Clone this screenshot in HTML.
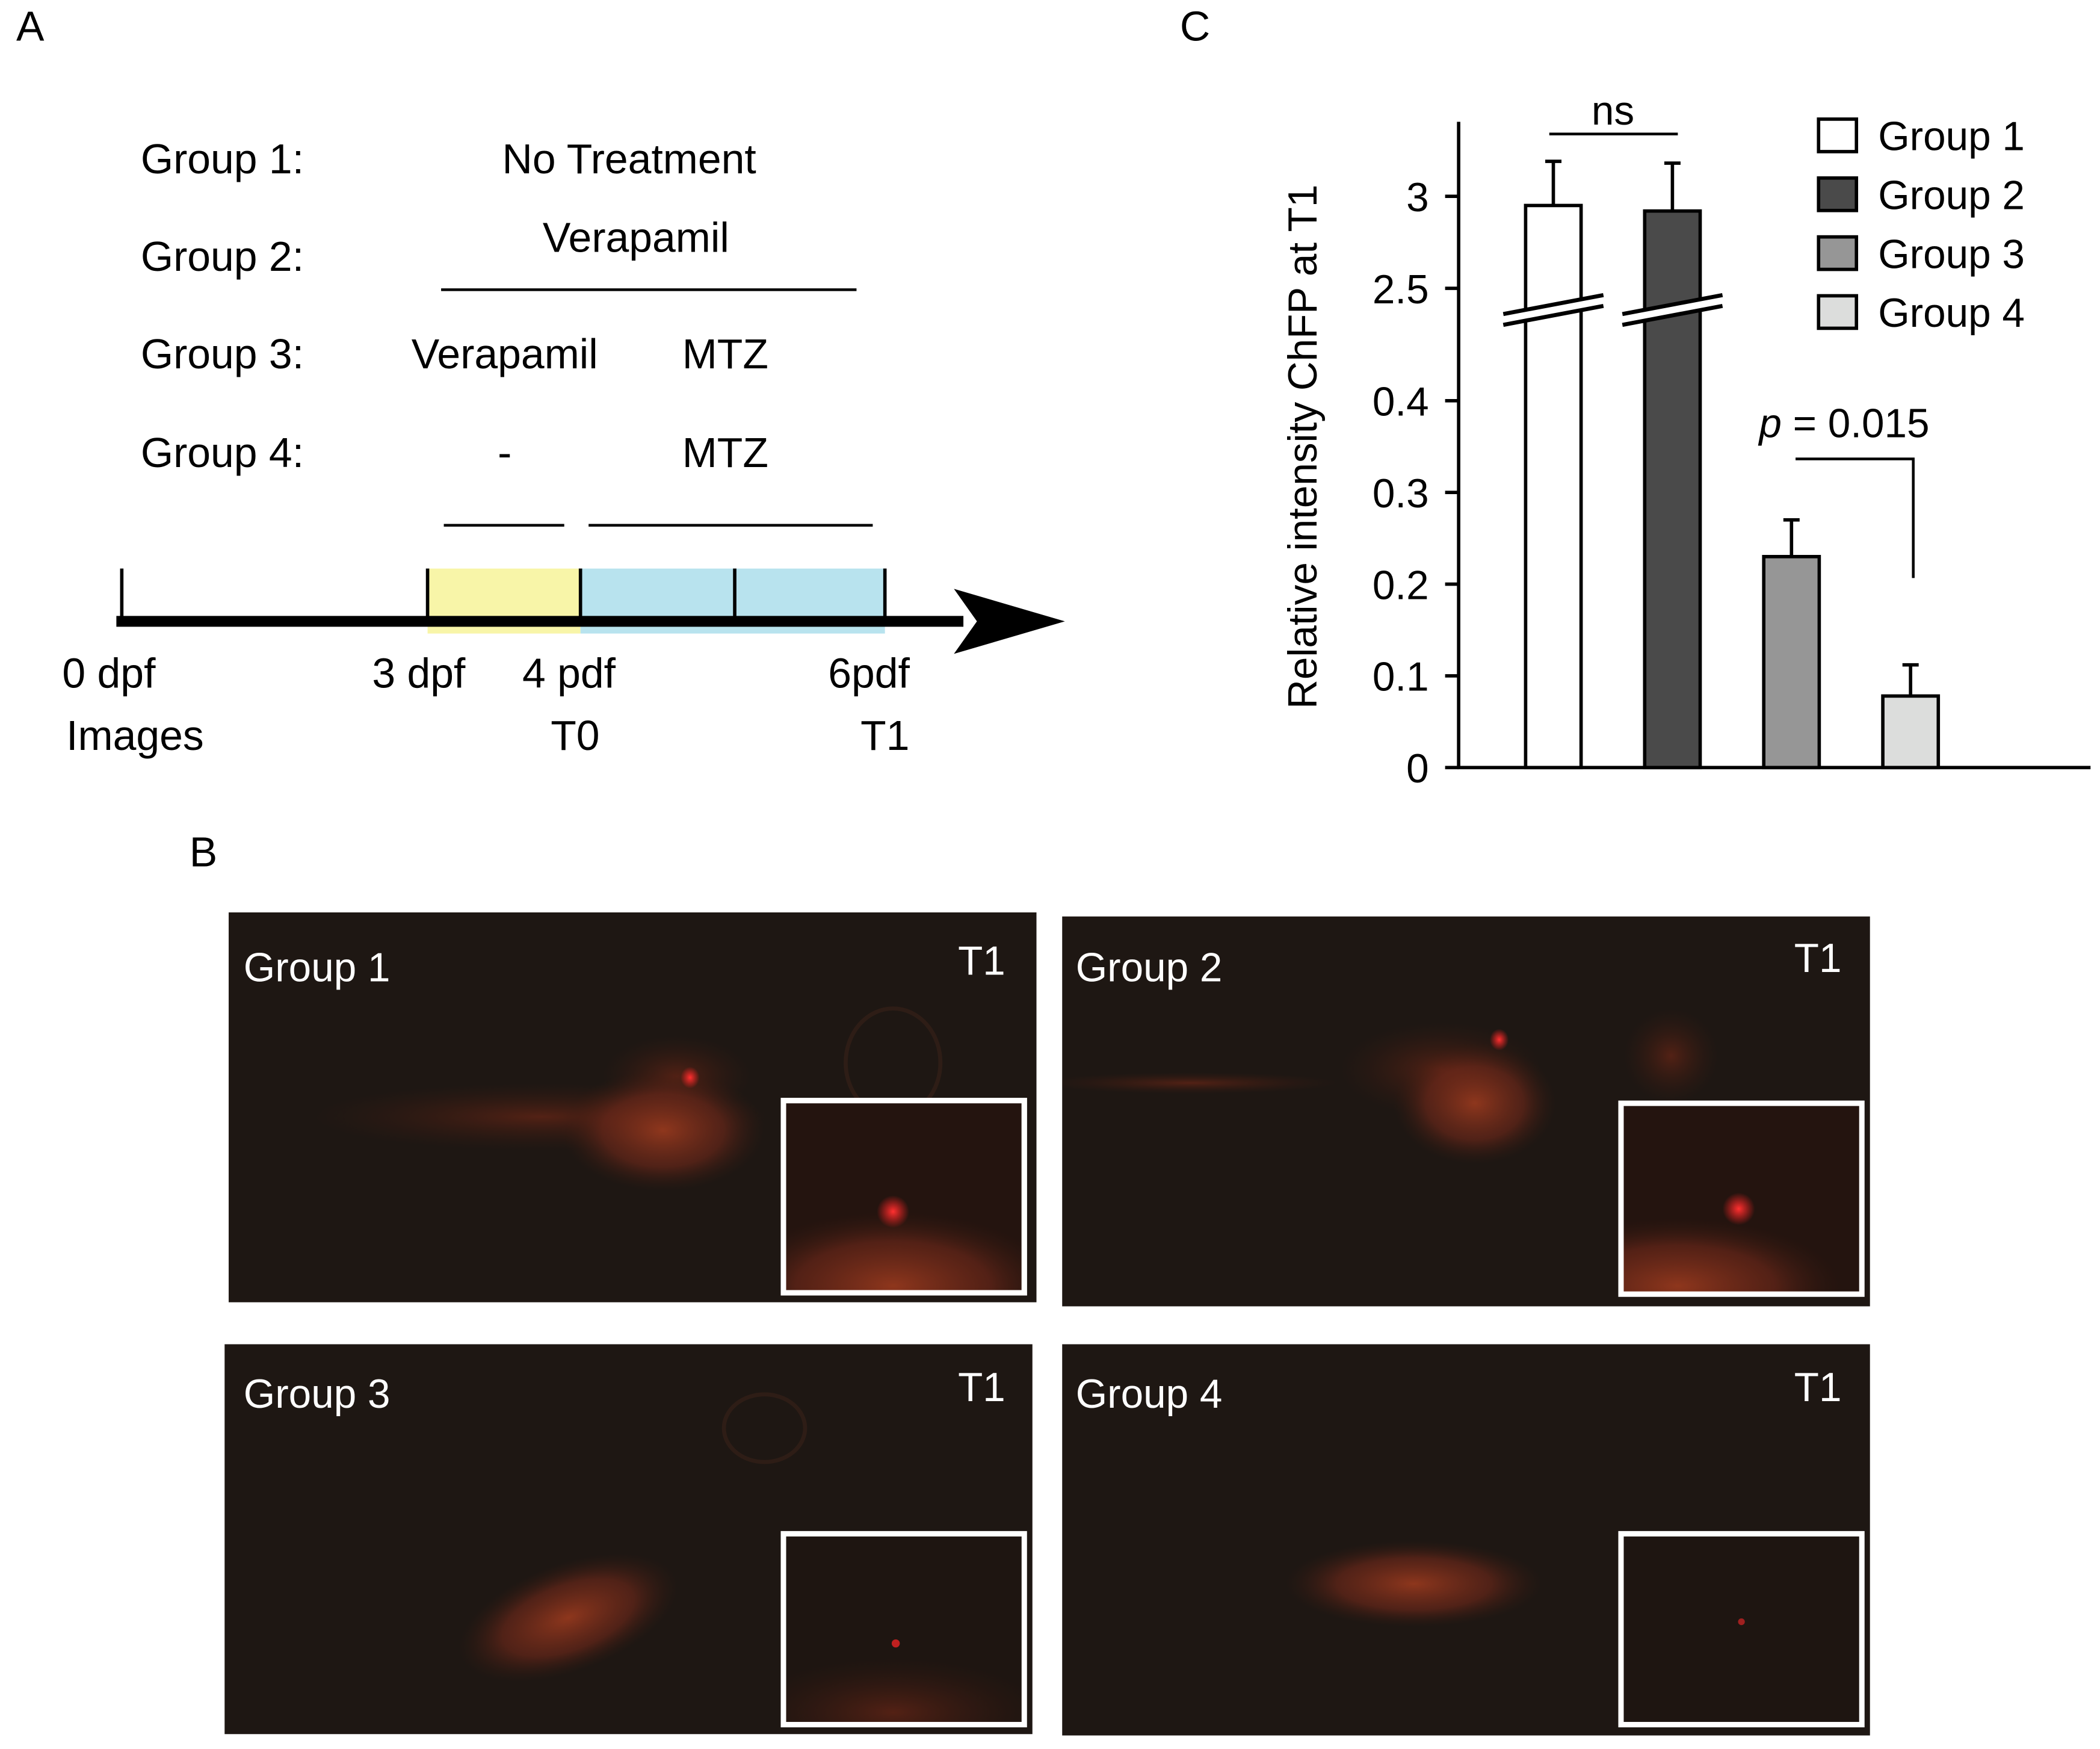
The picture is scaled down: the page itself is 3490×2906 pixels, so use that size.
<!DOCTYPE html>
<html><head><meta charset="utf-8"><style>
html,body{margin:0;padding:0;background:#fff}
svg{display:block}
text{font-family:"Liberation Sans","DejaVu Sans",sans-serif}
</style></head><body>
<svg width="3490" height="2906" viewBox="0 0 1552 1292" preserveAspectRatio="none" xmlns="http://www.w3.org/2000/svg">
<defs>
<radialGradient id="glow" cx="50%" cy="50%" r="50%"><stop offset="0" stop-color="#9a3a1e" stop-opacity="0.9"/><stop offset="0.6" stop-color="#72291a" stop-opacity="0.6"/><stop offset="1" stop-color="#3a1a10" stop-opacity="0"/></radialGradient>
<radialGradient id="glowdim" cx="50%" cy="50%" r="50%"><stop offset="0" stop-color="#6a2616" stop-opacity="0.7"/><stop offset="1" stop-color="#3a1a10" stop-opacity="0"/></radialGradient>
<radialGradient id="dot" cx="50%" cy="50%" r="50%"><stop offset="0" stop-color="#ff3030"/><stop offset="1" stop-color="#ff2020" stop-opacity="0"/></radialGradient>
<clipPath id="c1"><rect x="169" y="674" width="597" height="288"/></clipPath>
<clipPath id="c2"><rect x="785" y="677" width="597" height="288"/></clipPath>
<clipPath id="c3"><rect x="166" y="993" width="597" height="288"/></clipPath>
<clipPath id="c4"><rect x="785" y="993" width="597" height="289"/></clipPath>
<clipPath id="i1"><rect x="579" y="813" width="178" height="142"/></clipPath>
<clipPath id="i2"><rect x="1198" y="815" width="178" height="141"/></clipPath>
<clipPath id="i3"><rect x="579" y="1133" width="178" height="141"/></clipPath>
<clipPath id="i4"><rect x="1198" y="1133" width="178" height="141"/></clipPath>
</defs>

<!-- Panel A -->
<g font-size="31" fill="#000">
<text x="12" y="30">A</text>
<text x="104" y="128">Group 1:</text>
<text x="104" y="200">Group 2:</text>
<text x="104" y="272">Group 3:</text>
<text x="104" y="345">Group 4:</text>
<text x="465" y="128" text-anchor="middle">No Treatment</text>
<text x="470" y="186" text-anchor="middle">Verapamil</text>
<line x1="326" y1="214" x2="633" y2="214" stroke="#000" stroke-width="2"/>
<text x="373" y="272" text-anchor="middle">Verapamil</text>
<text x="536" y="272" text-anchor="middle">MTZ</text>
<text x="373" y="345" text-anchor="middle">-</text>
<text x="536" y="345" text-anchor="middle">MTZ</text>
<line x1="328" y1="388" x2="417" y2="388" stroke="#000" stroke-width="2"/>
<line x1="435" y1="388" x2="645" y2="388" stroke="#000" stroke-width="2"/>
<rect x="316" y="420" width="113" height="48" fill="#f8f5a8"/>
<rect x="429" y="420" width="225" height="48" fill="#b8e3ee"/>
<line x1="86" y1="459" x2="712" y2="459" stroke="#000" stroke-width="8"/>
<path d="M705,435 L787,459 L705,483 L722,459 Z" fill="#000"/>
<g stroke="#000" stroke-width="2.5">
<line x1="90" y1="420" x2="90" y2="459"/><line x1="316" y1="420" x2="316" y2="459"/><line x1="429" y1="420" x2="429" y2="459"/><line x1="543" y1="420" x2="543" y2="459"/><line x1="654" y1="420" x2="654" y2="459"/>
</g>
<text x="46" y="508">0 dpf</text>
<text x="275" y="508">3 dpf</text>
<text x="386" y="508">4 pdf</text>
<text x="612" y="508">6pdf</text>
<text x="49" y="554">Images</text>
<text x="407" y="554">T0</text>
<text x="636" y="554">T1</text>
</g>

<!-- Panel C -->
<g id="chart" font-size="30">
<text x="872" y="30" font-size="31">C</text>
<text transform="translate(973,330) rotate(-90)" text-anchor="middle" font-size="30">Relative intensity ChFP at T1</text>
<line x1="1078" y1="90" x2="1078" y2="568" stroke="#000" stroke-width="2.5"/>
<line x1="1077" y1="567" x2="1545" y2="567" stroke="#000" stroke-width="2.5"/>
<g id="ticks"></g>
<g id="bars"></g>
<text x="1192" y="92" text-anchor="middle">ns</text>
<line x1="1145" y1="99" x2="1240" y2="99" stroke="#000" stroke-width="2"/>
<text x="1300" y="323"><tspan font-style="italic">p</tspan> = 0.015</text>
<path d="M1327,339 H1414 V427" fill="none" stroke="#000" stroke-width="2"/>
<g id="legend"></g>
</g>

<!-- Panel B -->
<g>
<text x="140" y="640" font-size="31">B</text>

<g>
<rect x="169" y="674" width="597" height="288" fill="#1e1713"/>
<g clip-path="url(#c1)">
<ellipse cx="500" cy="795" rx="55" ry="30" fill="url(#glowdim)"/>
<ellipse cx="400" cy="825" rx="170" ry="25" fill="url(#glowdim)"/>
<ellipse cx="490" cy="835" rx="75" ry="45" fill="url(#glow)"/>
<ellipse cx="660" cy="785" rx="35" ry="40" fill="none" stroke="#2e1d16" stroke-width="3"/>
<ellipse cx="510" cy="796" rx="7" ry="8" fill="url(#dot)"/>
</g>
<rect x="579" y="813" width="178" height="142" fill="#24140f" stroke="#fff" stroke-width="4"/>
<g clip-path="url(#i1)">
<ellipse cx="660" cy="950" rx="120" ry="55" fill="url(#glow)"/>
<ellipse cx="660" cy="895" rx="12" ry="12" fill="url(#dot)"/>
</g>
<rect x="579" y="813" width="178" height="142" fill="none" stroke="#fff" stroke-width="4"/>
<text x="180" y="725" font-size="30" fill="#fff">Group 1</text>
<text x="708" y="720" font-size="30" fill="#fff">T1</text>
</g>

<g>
<rect x="785" y="677" width="597" height="288" fill="#1e1713"/>
<g clip-path="url(#c2)">
<ellipse cx="880" cy="800" rx="110" ry="8" fill="url(#glowdim)"/>
<ellipse cx="1065" cy="790" rx="75" ry="35" fill="url(#glowdim)"/>
<ellipse cx="1090" cy="815" rx="60" ry="45" fill="url(#glow)"/>
<ellipse cx="1235" cy="780" rx="35" ry="35" fill="url(#glowdim)"/>
<ellipse cx="1108" cy="768" rx="7" ry="8" fill="url(#dot)"/>
</g>
<rect x="1198" y="815" width="178" height="141" fill="#24140f"/>
<g clip-path="url(#i2)">
<ellipse cx="1240" cy="950" rx="120" ry="50" fill="url(#glow)"/>
<ellipse cx="1285" cy="893" rx="12" ry="12" fill="url(#dot)"/>
</g>
<rect x="1198" y="815" width="178" height="141" fill="none" stroke="#fff" stroke-width="4"/>
<text x="795" y="725" font-size="30" fill="#fff">Group  2</text>
<text x="1326" y="718" font-size="30" fill="#fff">T1</text>
</g>

<g>
<rect x="166" y="993" width="597" height="288" fill="#1e1713"/>
<g clip-path="url(#c3)">
<ellipse cx="565" cy="1055" rx="30" ry="25" fill="none" stroke="#2e1d16" stroke-width="3"/>
<ellipse cx="420" cy="1195" rx="85" ry="40" fill="url(#glow)" transform="rotate(-20 420 1195)"/>
</g>
<rect x="579" y="1133" width="178" height="141" fill="#1e1511"/>
<g clip-path="url(#i3)">
<ellipse cx="660" cy="1265" rx="110" ry="40" fill="url(#glowdim)"/>
<circle cx="662" cy="1214" r="3" fill="#c02020"/>
</g>
<rect x="579" y="1133" width="178" height="141" fill="none" stroke="#fff" stroke-width="4"/>
<text x="180" y="1040" font-size="30" fill="#fff">Group 3</text>
<text x="708" y="1035" font-size="30" fill="#fff">T1</text>
</g>

<g>
<rect x="785" y="993" width="597" height="289" fill="#1e1713"/>
<g clip-path="url(#c4)">
<ellipse cx="1045" cy="1170" rx="95" ry="32" fill="url(#glow)"/>
</g>
<rect x="1198" y="1133" width="178" height="141" fill="#1e1511" stroke="#fff" stroke-width="4"/>
<circle cx="1287" cy="1198" r="2.5" fill="#a02020"/>
<text x="795" y="1040" font-size="30" fill="#fff">Group 4</text>
<text x="1326" y="1035" font-size="30" fill="#fff">T1</text>
</g>
</g>
</svg>
<script>
const categories = ["Group 1","Group 2","Group 3","Group 4"];
const meanValues = [2.95, 2.92, 0.23, 0.078];
const errorValues = [0.24, 0.26, 0.04, 0.034];
const tickValues = [0, 0.1, 0.2, 0.3, 0.4, 2.5, 3];
const tickLabels = ["0","0.1","0.2","0.3","0.4","2.5","3"];
const barColors = ["#ffffff","#4a4a4a","#969696","#dcdddc"];

const NS = "http://www.w3.org/2000/svg";
function yScale(v){
  if (v <= 1) return 567 - v * 677.5;
  return 213 - (v - 2.5) * 136;
}
function xScale(i){ return 1148 + i * 88; }
const BW = 41;
function mk(tag, attrs, parent){
  const e = document.createElementNS(NS, tag);
  for (const k in attrs) e.setAttribute(k, attrs[k]);
  parent.appendChild(e); return e;
}
const ticksG = document.getElementById('ticks');
tickValues.forEach((v, i) => {
  const y = yScale(v);
  const t = mk('line', {x1:1068, x2:1078, y1:y, y2:y, stroke:'#000', 'stroke-width':2.5}, ticksG);
  
  
  const l = mk('text', {x:1056, y:y+11, 'text-anchor':'end', 'font-size':30}, ticksG);
  l.textContent = tickLabels[i];
  
  
});
const barsG = document.getElementById('bars');
categories.forEach((c, i) => {
  const cx = xScale(i), top = yScale(meanValues[i]), et = yScale(meanValues[i] + errorValues[i]);
  const eb = mk('path', {d:`M${cx},${top} V${et} M${cx-6},${et} H${cx+6}`, stroke:'#000', 'stroke-width':2.5, fill:'none'}, barsG);
  
  
  const r = mk('rect', {x:cx-BW/2, y:top, width:BW, height:567-top, fill:barColors[i], stroke:'#000', 'stroke-width':2.5}, barsG);
  
  
  if (meanValues[i] > 1) {
    const y0 = 240;
    const p = mk('polygon', {points:`${cx-37},${y0} ${cx+37},${y0-14} ${cx+37},${y0-22} ${cx-37},${y0-8}`, fill:'#fff'}, barsG);
    
    
    const b = mk('path', {d:`M${cx-37},${y0} L${cx+37},${y0-14} M${cx-37},${y0-8} L${cx+37},${y0-22}`, stroke:'#000', 'stroke-width':3}, barsG);
    
    
  }
});
const legG = document.getElementById('legend');
categories.forEach((c, i) => {
  const cy = 100 + i * 43.5;
  const s = mk('rect', {x:1344, y:cy-12, width:28, height:24, fill:barColors[i], stroke:'#000', 'stroke-width':2.5}, legG);
  
  
  const t = mk('text', {x:1388, y:cy+11, 'font-size':30}, legG);
  t.textContent = c;
  
  
});
</script>
</body></html>
